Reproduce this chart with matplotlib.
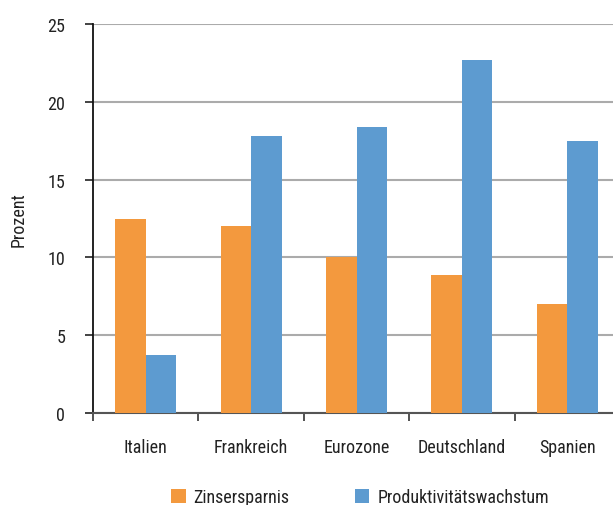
import matplotlib
matplotlib.use("Agg")
import matplotlib.pyplot as plt
import numpy as np

plt.rcParams["font.family"] = ["Roboto Condensed", "Liberation Sans Narrow", "Liberation Sans", "DejaVu Sans"]

categories = ["Italien", "Frankreich", "Eurozone", "Deutschland", "Spanien"]
zinsersparnis = [12.5, 12.0, 10.0, 8.9, 7.0]
produktivitaet = [3.7, 17.8, 18.4, 22.7, 17.5]
series_names = ["Zinsersparnis", "Produktivitätswachstum"]
yticks = [0, 5, 10, 15, 20, 25]

orange = "#F3993E"
blue = "#5D9BD0"
fs = 13

fig = plt.figure(figsize=(6.13, 5.06), dpi=100)
# axes extends slightly past the right edge of the canvas
ax = fig.add_axes([93 / 613, 1 - 414 / 506, 527 / 613, 389 / 506])

x = np.arange(len(categories))
w = 0.29
ax.bar(x - w / 2, zinsersparnis, w, color=orange, label=series_names[0], zorder=3)
ax.bar(x + w / 2, produktivitaet, w, color=blue, label=series_names[1], zorder=3)

ax.set_xlim(-0.5, len(categories) - 0.5)
ax.set_ylim(0, 25)
ax.set_yticks(yticks)
ax.yaxis.grid(True, color="#ABABAB", linewidth=1.5, zorder=0)
ax.set_axisbelow(True)

ax.set_xticks(np.arange(len(categories) + 1) - 0.5)
ax.set_xticklabels([])
ax.set_xticks(x, minor=True)
ax.set_xticklabels(categories, minor=True)
ax.tick_params(axis="x", which="major", length=6, width=1.2, color="#333333", direction="out")
ax.tick_params(axis="x", which="minor", length=0, pad=18, labelsize=fs, labelcolor="#222222")
ax.tick_params(axis="y", length=6, width=1.2, color="#222222", labelsize=fs, labelcolor="#222222", pad=14)

for s in ["top", "right"]:
    ax.spines[s].set_visible(False)
ax.spines["left"].set_color("#111111")
ax.spines["left"].set_linewidth(1.3)
ax.spines["bottom"].set_color("#555555")
ax.spines["bottom"].set_linewidth(1.5)

ax.set_ylabel("Prozent", fontsize=fs, color="#222222", labelpad=14)

leg = fig.legend(loc="center", bbox_to_anchor=(360 / 613, 1 - 498 / 506), ncol=2, frameon=False,
                 fontsize=fs, handlelength=0.8, handleheight=0.8, columnspacing=3.6,
                 handletextpad=0.45)
for t in leg.get_texts():
    t.set_color("#222222")

fig.savefig("out.png", dpi=100)
